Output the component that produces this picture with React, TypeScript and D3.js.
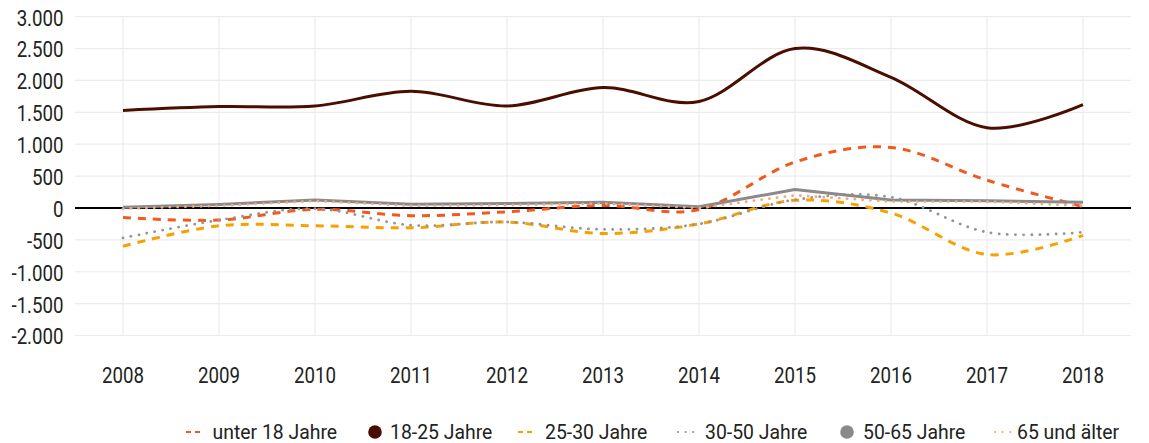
import React from "react";
import * as d3 from "d3";

const years = ["2008", "2009", "2010", "2011", "2012", "2013", "2014", "2015", "2016", "2017", "2018"];
const yTicks = [3000, 2500, 2000, 1500, 1000, 500, 0, -500, -1000, -1500, -2000];

const under18 = [-150, -190, -20, -120, -60, 40, -25, 720, 950, 435, 20];
const age18to25 = [1530, 1590, 1600, 1830, 1600, 1890, 1670, 2500, 2050, 1260, 1620];
const age25to30 = [-600, -280, -280, -310, -220, -400, -250, 120, -80, -730, -430];
const age30to50 = [-470, -190, -10, -270, -220, -335, -250, 130, 170, -380, -380];
const age50to65 = [10, 55, 125, 60, 70, 90, 20, 290, 125, 115, 90];
const age65plus = [-10, 35, 110, 35, 45, 70, 0, 200, 100, 100, 35];

const seriesNames = ["unter 18 Jahre", "18-25 Jahre", "25-30 Jahre", "30-50 Jahre", "50-65 Jahre", "65 und älter"];

type Style = { color: string; width: number; dash: string | null; smooth: boolean; legend: "dash" | "dot" | "circle" };
const styles: Style[] = [
  { color: "#f05a1e", width: 3, dash: "8,7", smooth: true, legend: "dash" },
  { color: "#4a0e00", width: 3, dash: null, smooth: true, legend: "circle" },
  { color: "#f7a000", width: 3, dash: "8,7", smooth: true, legend: "dash" },
  { color: "#959595", width: 2.8, dash: "0.1,8", smooth: true, legend: "dot" },
  { color: "#8a8a8a", width: 3, dash: null, smooth: false, legend: "circle" },
  { color: "#f8a57a", width: 2.8, dash: "0.1,7.7", smooth: false, legend: "dot" },
];
const seriesData = [under18, age18to25, age25to30, age30to50, age50to65, age65plus];

// legend layout (symbol centre, text start)
const legendSymX = [193, 375, 525, 686, 847, 1003];
const legendTextX = [212.5, 390, 545, 705, 863, 1017];

const W = 1149;
const H = 443;
const FONT = "Roboto, 'Noto Sans', sans-serif";
const SX = 0.83;

const locale = d3.formatLocale({ decimal: ",", thousands: ".", grouping: [3], currency: ["", "€"], minus: "-" });
const fmt = locale.format(",");

export default function App() {
  const x = d3.scalePoint<string>().domain(years).range([75, 1131]).padding(0.5);
  const y = d3.scaleLinear().domain([-2000, 3000]).range([335.5, 16.7]);

  const makeLine = (smooth: boolean) =>
    d3
      .line<number>()
      .x((_, i) => x(years[i]) as number)
      .y((d) => y(d))
      .curve(smooth ? d3.curveCardinal.tension(0) : d3.curveLinear);

  const [x0, x1] = [75, 1131];

  return (
    <svg
      width={W}
      height={H}
      style={{ position: "absolute", left: 0, top: 0, display: "block", background: "#fff" }}
      fontFamily={FONT}
    >
      {yTicks.map((t) => (
        <line key={"h" + t} x1={x0} x2={x1} y1={y(t)} y2={y(t)} stroke="#ececec" strokeWidth={1.2} />
      ))}
      {years.map((yr) => (
        <line key={"v" + yr} x1={x(yr)} x2={x(yr)} y1={y(3000)} y2={y(-2000)} stroke="#ececec" strokeWidth={1.2} />
      ))}
      {yTicks.map((t) => (
        <text
          key={"yl" + t}
          transform={`translate(63.5,${y(t) + 1}) scale(${SX},1)`}
          textAnchor="end"
          dy="0.35em"
          fontSize={22.5}
          fill="#222"
        >
          {fmt(t)}
        </text>
      ))}
      {years.map((yr) => (
        <text
          key={"xl" + yr}
          transform={`translate(${x(yr)},382.5) scale(${SX + 0.02},1)`}
          textAnchor="middle"
          fontSize={22}
          fill="#222"
        >
          {yr}
        </text>
      ))}
      <line x1={x0} x2={x1} y1={y(0)} y2={y(0)} stroke="#000" strokeWidth={2} />
      {seriesData.map((data, i) => {
        const s = styles[i];
        return (
          <path
            key={"s" + i}
            d={makeLine(s.smooth)(data) || ""}
            fill="none"
            stroke={s.color}
            strokeWidth={s.width}
            strokeDasharray={s.dash || undefined}
            strokeLinecap={s.legend === "dot" ? "round" : "butt"}
            strokeLinejoin="round"
          />
        );
      })}
      {seriesNames.map((name, i) => {
        const s = styles[i];
        const cx = legendSymX[i];
        const cy = 432;
        let sym: React.ReactNode;
        if (s.legend === "circle") {
          sym = <circle cx={cx} cy={cy} r={6.8} fill={s.color} />;
        } else if (s.legend === "dash") {
          sym = (
            <line x1={cx - 7} x2={cx + 7} y1={cy} y2={cy} stroke={s.color} strokeWidth={2} strokeDasharray="5,4" />
          );
        } else {
          sym = (
            <line
              x1={cx - 8}
              x2={cx + 8}
              y1={cy}
              y2={cy}
              stroke={s.color}
              strokeWidth={2.2}
              strokeDasharray="0.1,7.5"
              strokeLinecap="round"
            />
          );
        }
        return (
          <g key={"lg" + i}>
            {sym}
            <text
              transform={`translate(${legendTextX[i]},438.5) scale(0.97,1)`}
              fontSize={20}
              fill="#222"
            >
              {name}
            </text>
          </g>
        );
      })}
    </svg>
  );
}
